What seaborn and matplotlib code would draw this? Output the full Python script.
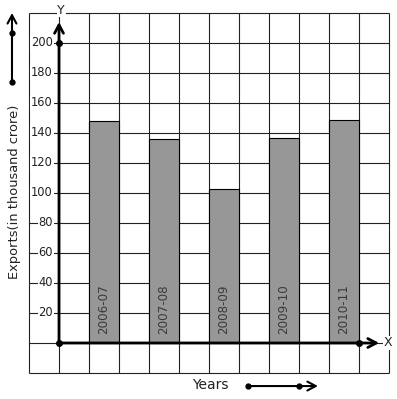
import matplotlib
matplotlib.use('Agg')
import matplotlib.pyplot as plt
import seaborn as sns

# Exports data (thousand crore)
years = ['2006-07', '2007-08', '2008-09', '2009-10', '2010-11']
exports = [148, 136, 103, 137, 149]
ytick_values = [20, 40, 60, 80, 100, 120, 140, 160, 180, 200]

sns.set_style('white')
plt.rcParams['font.family'] = ['DejaVu Sans']

fig = plt.figure(figsize=(3.97, 3.99), dpi=100)
ax = fig.add_axes([0, 0, 1, 1])

# graph paper grid: one cell = 1 year slot on x, 20 units on y
grid_col = '#222222'
ax.vlines(range(-1, 12), -20, 220, color=grid_col, lw=0.8, zorder=1)
ax.hlines(range(-20, 221, 20), -1, 11, color=grid_col, lw=0.8, zorder=1)

# bars sit in every other cell
positions = [1.5 + 2 * i for i in range(len(years))]
sns.barplot(x=positions, y=exports, native_scale=True, width=0.5,
            color='#979797', saturation=1, edgecolor='black', linewidth=0.8,
            ax=ax, zorder=2)

for pos, label in zip(positions, years):
    ax.text(pos, 22.5, label, rotation=90, ha='center', va='center',
            fontsize=8.6, color='#3a3a3a', zorder=3)

# y tick labels with white background over the grid lines
for v in ytick_values:
    ax.text(-0.2, v, str(v), ha='right', va='center', fontsize=8.3,
            color='#222222', zorder=3,
            bbox=dict(facecolor='white', edgecolor='none', pad=0.6))

# axes with arrow heads
arrow = dict(arrowstyle='->,head_length=0.3,head_width=0.16', lw=2,
             color='black', shrinkA=0, shrinkB=0, mutation_scale=20)
ax.annotate('', xy=(0, 214), xytext=(0, 0), arrowprops=arrow, zorder=4)
ax.annotate('', xy=(10.67, 0), xytext=(0, 0), arrowprops=arrow, zorder=4)
ax.plot([0, 0, 10], [0, 200, 0], 'o', color='black', ms=4, zorder=5)

ax.text(10.97, 0, 'X', ha='center', va='center', fontsize=9, color='#222222',
        zorder=5, bbox=dict(facecolor='white', edgecolor='none', pad=0.5))
ax.text(0.07, 222, 'Y', ha='center', va='center', fontsize=9, color='#222222',
        zorder=5, bbox=dict(facecolor='white', edgecolor='none', pad=0.5))

# y label with its small arrow
ax.text(-1.47, 101, 'Exports(in thousand crore)', rotation=90, ha='center',
        va='center', fontsize=9.4, color='#222222')
thin = dict(arrow, lw=1.5)
ax.annotate('', xy=(-1.567, 220), xytext=(-1.567, 174), arrowprops=thin)
ax.plot([-1.567, -1.567], [174, 207], 'o', color='black', ms=3.5)

# x label with its small arrow
ax.text(5.03, -28, 'Years', ha='center', va='center', fontsize=10,
        color='#222222')
ax.annotate('', xy=(8.63, -28.7), xytext=(6.3, -28.7), arrowprops=thin)
ax.plot([6.3, 8.0], [-28.7, -28.7], 'o', color='black', ms=3.5)

ax.set_xlim(-59 / 30, 338 / 30)
ax.set_ylim(-56 / 1.5, 343 / 1.5)
ax.axis('off')

fig.savefig('out.png', dpi=100, facecolor='white')
